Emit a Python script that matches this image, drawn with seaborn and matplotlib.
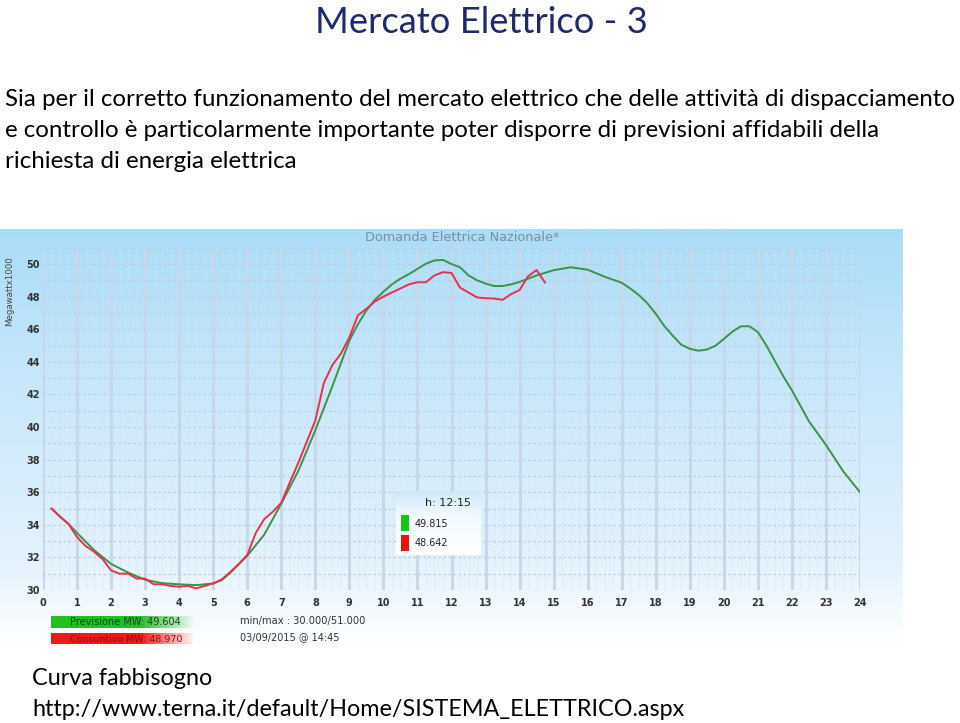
import numpy as np
import pandas as pd
import matplotlib
matplotlib.use("Agg")
import matplotlib.pyplot as plt
import seaborn as sns
from matplotlib.colors import LinearSegmentedColormap, to_rgb
from matplotlib.patches import Rectangle

# ---------------- data ----------------
prev_hours = [0.25, 0.5, 0.75, 1.0, 1.5, 2.0, 2.5, 3.0, 3.5, 4.0, 4.5, 5.0, 5.25, 5.5,
              6.0, 6.5, 7.0, 7.5, 8.0, 8.5, 9.0, 9.25, 9.5, 9.75, 10.0, 10.25, 10.5,
              10.75, 11.0, 11.25, 11.5, 11.75, 12.0, 12.25, 12.5, 12.75, 13.0, 13.25,
              13.5, 13.75, 14.0, 14.5, 15.0, 15.5, 16.0, 16.5, 17.0, 17.25, 17.5, 17.75,
              18.0, 18.25, 18.5, 18.75, 19.0, 19.25, 19.5, 19.75, 20.0, 20.25, 20.5,
              20.75, 21.0, 21.25, 21.5, 21.75, 22.0, 22.5, 23.0, 23.5, 24.0]
prev_values = [35.0, 34.5, 34.05, 33.5, 32.45, 31.6, 31.07, 30.63, 30.42, 30.35, 30.3,
               30.4, 30.6, 31.05, 32.1, 33.4, 35.3, 37.3, 39.8, 42.5, 45.3, 46.3, 47.15,
               47.8, 48.3, 48.75, 49.1, 49.38, 49.7, 50.02, 50.22, 50.25, 50.0, 49.8,
               49.3, 49.0, 48.8, 48.65, 48.65, 48.75, 48.9, 49.3, 49.62, 49.8, 49.65,
               49.22, 48.85, 48.5, 48.1, 47.6, 46.95, 46.2, 45.6, 45.05, 44.8, 44.68,
               44.75, 44.98, 45.4, 45.85, 46.18, 46.18, 45.82, 45.0, 44.05, 43.1, 42.25,
               40.35, 38.9, 37.3, 36.0]

cons_hours = [0.25, 0.5, 0.75, 1.0, 1.25, 1.5, 1.75, 2.0, 2.25, 2.5, 2.75, 3.0, 3.25,
              3.5, 3.75, 4.0, 4.25, 4.5, 4.75, 5.0, 5.25, 5.5, 5.75, 6.0, 6.25, 6.5,
              6.75, 7.0, 7.25, 7.5, 7.75, 8.0, 8.25, 8.5, 8.75, 9.0, 9.25, 9.5, 9.75,
              10.0, 10.25, 10.5, 10.75, 11.0, 11.25, 11.5, 11.75, 12.0, 12.25, 12.5,
              12.75, 13.0, 13.25, 13.5, 13.75, 14.0, 14.25, 14.5, 14.75]
cons_values = [35.0, 34.5, 34.05, 33.25, 32.7, 32.35, 31.9, 31.2, 31.0, 31.0, 30.7, 30.7,
               30.35, 30.35, 30.25, 30.2, 30.25, 30.1, 30.25, 30.4, 30.65, 31.1, 31.6,
               32.15, 33.5, 34.35, 34.8, 35.35, 36.6, 37.8, 39.1, 40.4, 42.7, 43.8, 44.5,
               45.5, 46.85, 47.25, 47.7, 48.0, 48.25, 48.5, 48.75, 48.88, 48.88, 49.3,
               49.5, 49.45, 48.55, 48.25, 47.95, 47.9, 47.88, 47.8, 48.15, 48.4, 49.25,
               49.63, 48.85]

x_ticks = list(range(0, 25))
y_ticks = list(range(30, 51, 2))

slide_title = "Mercato Elettrico - 3"
body_lines = ["Sia per il corretto funzionamento del mercato elettrico che delle attività di dispacciamento",
              "e controllo è particolarmente importante poter disporre di previsioni affidabili della",
              "richiesta di energia elettrica"]
footer_lines = ["Curva fabbisogno",
                "http://www.terna.it/default/Home/SISTEMA_ELETTRICO.aspx"]
chart_title = "Domanda Elettrica Nazionale*"
y_label = "Megawattx1000"
legend_prev = "Previsione MW: 49.604"
legend_cons = "Consuntivo MW: 48.970"
info_lines = ["min/max : 30.000/51.000", "03/09/2015 @ 14:45"]
tip_time = "h: 12:15"
tip_prev = "49.815"
tip_cons = "48.642"

# ---------------- figure ----------------
W, H = 960, 723
sns.set_theme(style="white")
plt.rcParams["font.family"] = ["DejaVu Sans"]

fig = plt.figure(figsize=(W / 100, H / 100), dpi=100)
fig.patch.set_facecolor("white")
renderer = fig.canvas.get_renderer()


def fx(px):
    return px / W


def fy(py):
    return 1 - py / H


def fit_width(t, width_px):
    bb = t.get_window_extent(renderer=renderer)
    t.set_fontsize(t.get_fontsize() * width_px / bb.width)
    return t.get_fontsize()


def px_axes(x0, y0, x1, y1, z=0):
    a = fig.add_axes([fx(x0), fy(y1), fx(x1 - x0), (y1 - y0) / H], zorder=z)
    a.set_axis_off()
    return a


# chart background gradient
bg = px_axes(0, 229, 903, 645, z=0)
grad_cmap = LinearSegmentedColormap.from_list(
    "bgc", [(0.0, "#aadcf8"), (0.35, "#c6e7fb"), (0.8, "#e4f2fd"), (1.0, "#ffffff")])
bg.imshow(np.linspace(0, 1, 256).reshape(-1, 1), aspect="auto", cmap=grad_cmap,
          extent=[0, 1, 0, 1], interpolation="bilinear")
bg.set_xlim(0, 1)
bg.set_ylim(0, 1)

# data axes
ax = fig.add_axes([fx(43), fy(590), fx(860 - 43), (590 - 247.7) / H], zorder=2)
ax.set_facecolor("none")

df_prev = pd.DataFrame({"ora": prev_hours, "MW": prev_values})
df_cons = pd.DataFrame({"ora": cons_hours, "MW": cons_values})
sns.lineplot(data=df_prev, x="ora", y="MW", ax=ax, color="#3a9346", lw=1.4, zorder=3)
sns.lineplot(data=df_cons, x="ora", y="MW", ax=ax, color="#e5304f", lw=1.4, zorder=4)

ax.set_xlim(0, 24)
ax.set_ylim(30, 51)
ax.set_xticks(x_ticks)
ax.set_yticks(y_ticks)
ax.set_xticks(np.arange(0, 24.01, 0.25), minor=True)
ax.set_yticks(np.arange(30, 51.01, 1), minor=True)
ax.grid(which="minor", axis="x", color="#d6e3f0", lw=0.8, ls=(0, (1.5, 2)), zorder=1)
ax.grid(which="major", axis="x", color="#c8d7e9", lw=2.2, zorder=1)
ax.grid(which="both", axis="y", color="#bfcddd", lw=0.9, ls=(0, (2, 2)), zorder=1)
ax.set_axisbelow(True)
for s in ax.spines.values():
    s.set_visible(False)
ax.tick_params(which="both", length=0)
ax.tick_params(axis="x", pad=6, labelsize=7, labelcolor="#333333")
ax.tick_params(axis="y", pad=2, labelsize=7, labelcolor="#333333")
for lab in ax.get_xticklabels() + ax.get_yticklabels():
    lab.set_fontweight("bold")
ax.set_xlabel("")
ax.set_ylabel("")

# chart texts
t = fig.text(fx(462), fy(238), chart_title, ha="center", va="center", color="#7f8d99", fontsize=10)
fit_width(t, 194)
t = fig.text(fx(10), fy(291), y_label, ha="center", va="center", rotation=90, color="#444444", fontsize=7)
bb = t.get_window_extent(renderer=renderer)
t.set_fontsize(7 * 70 / bb.height)

# legend bars


def grad_bar(x0, y0, x1, y1, color):
    a = px_axes(x0, y0, x1, y1, z=3)
    n = 200
    rgba = np.zeros((1, n, 4))
    rgba[..., :3] = to_rgb(color)
    alpha = np.ones(n)
    k = int(n * 0.62)
    alpha[k:] = np.linspace(1, 0.05, n - k)
    rgba[0, :, 3] = alpha
    a.imshow(rgba, aspect="auto", extent=[0, 1, 0, 1], interpolation="bilinear")
    a.set_xlim(0, 1)
    a.set_ylim(0, 1)


grad_bar(51, 616, 193, 628, "#22c022")
grad_bar(51, 633, 193, 644, "#ee1a1a")
t = fig.text(fx(125), fy(622), legend_prev, ha="center", va="center", color="#1c401c", fontsize=8, zorder=5)
fit_width(t, 111)
t = fig.text(fx(126), fy(639), legend_cons, ha="center", va="center", color="#8c1010", fontsize=8, zorder=5)
fit_width(t, 113)
t = fig.text(fx(240), fy(621), info_lines[0], ha="left", va="center", color="#333333", fontsize=8)
fit_width(t, 125)
t = fig.text(fx(240), fy(637), info_lines[1], ha="left", va="center", color="#333333", fontsize=8)
fit_width(t, 100)

# tooltip box
tip = px_axes(396, 491, 481, 555, z=6)
tip_cmap = LinearSegmentedColormap.from_list("tip", [(0, "#ffffff"), (0.6, "#f4fafe"), (1, "#cfe9fa")])
tip.imshow(np.linspace(0, 1, 64).reshape(-1, 1), aspect="auto", cmap=tip_cmap, origin="lower",
           extent=[0, 1, 0, 1])
tip.set_xlim(0, 1)
tip.set_ylim(0, 1)
fig.patches.append(Rectangle((fx(401), fy(531)), fx(8), 16 / H, transform=fig.transFigure,
                             facecolor="#16c416", edgecolor="none", zorder=7))
fig.patches.append(Rectangle((fx(401), fy(551)), fx(8), 16 / H, transform=fig.transFigure,
                             facecolor="#ee1111", edgecolor="none", zorder=7))
t = fig.text(fx(471), fy(503), tip_time, ha="right", va="center", color="#222222", fontsize=8, zorder=8)
fit_width(t, 46)
t = fig.text(fx(415), fy(524), tip_prev, ha="left", va="center", color="#222222", fontsize=8, zorder=8)
fit_width(t, 34)
t = fig.text(fx(415), fy(543), tip_cons, ha="left", va="center", color="#222222", fontsize=8, zorder=8)
fit_width(t, 34)

# slide texts
slide_font = ["Lato", "DejaVu Sans"]
t = fig.text(fx(481), fy(33), slide_title, ha="center", va="baseline", color="#1f2a6b",
             fontsize=24, family=slide_font)
fit_width(t, 333)

t = fig.text(fx(5), fy(106), body_lines[0], ha="left", va="baseline", color="black",
             fontsize=15, family=slide_font)
body_size = fit_width(t, 953)
for i, line in enumerate(body_lines[1:], start=1):
    fig.text(fx(5), fy(106 + 31 * i), line, ha="left", va="baseline", color="black",
             fontsize=body_size, family=slide_font)

t = fig.text(fx(32), fy(716), footer_lines[1], ha="left", va="baseline", color="black",
             fontsize=16, family=slide_font)
foot_size = fit_width(t, 653)
fig.text(fx(32), fy(685), footer_lines[0], ha="left", va="baseline", color="black",
         fontsize=foot_size, family=slide_font)

fig.savefig("out.png", dpi=100)
